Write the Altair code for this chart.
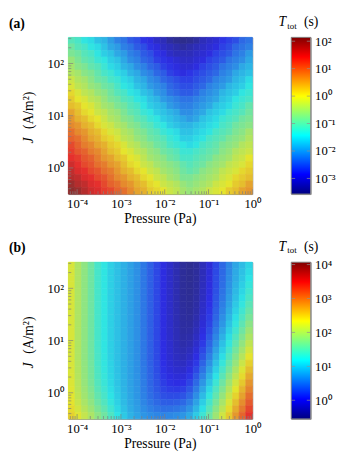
import altair as alt
import pandas as pd

# ---------------- data (log10 of T_tot in s), rows top (high J) -> bottom (low J)
P_LOG_MIN, P_LOG_MAX = -4.2, 0.0      # pressure extent, log10(Pa)
J_LOG_MIN, J_LOG_MAX = -0.5, 2.5      # current density extent, log10(A/m^2)

LOGT_A = [
    [-1.1, -1.2, -1.4, -1.5, -1.7, -1.8, -2.0, -2.2, -2.3, -2.5, -2.6, -2.8, -2.9, -3.1, -3.2, -3.4, -3.5, -3.55, -3.5, -3.4, -3.2, -3.1, -3.0, -2.8, -2.7, -2.6, -2.4, -2.3],
    [-0.9, -1.1, -1.2, -1.4, -1.5, -1.7, -1.9, -2.0, -2.2, -2.3, -2.5, -2.6, -2.8, -2.9, -3.1, -3.2, -3.3, -3.4, -3.3, -3.2, -3.1, -3.0, -2.9, -2.7, -2.6, -2.4, -2.3, -2.2],
    [-0.8, -0.9, -1.1, -1.2, -1.4, -1.6, -1.7, -1.9, -2.0, -2.2, -2.3, -2.5, -2.6, -2.8, -2.9, -3.1, -3.2, -3.2, -3.2, -3.1, -3.0, -2.9, -2.7, -2.6, -2.5, -2.3, -2.2, -2.0],
    [-0.6, -0.8, -1.0, -1.1, -1.3, -1.4, -1.6, -1.7, -1.9, -2.1, -2.2, -2.4, -2.5, -2.7, -2.8, -2.9, -3.0, -3.1, -3.1, -3.0, -2.9, -2.7, -2.6, -2.5, -2.3, -2.2, -2.1, -1.9],
    [-0.5, -0.7, -0.8, -1.0, -1.1, -1.3, -1.5, -1.6, -1.8, -1.9, -2.1, -2.2, -2.4, -2.5, -2.7, -2.8, -2.9, -3.0, -3.0, -2.9, -2.7, -2.6, -2.5, -2.3, -2.2, -2.1, -1.9, -1.8],
    [-0.4, -0.5, -0.7, -0.8, -1.0, -1.2, -1.3, -1.5, -1.6, -1.8, -1.9, -2.1, -2.2, -2.4, -2.5, -2.7, -2.8, -2.9, -2.8, -2.7, -2.6, -2.5, -2.4, -2.2, -2.1, -1.9, -1.8, -1.7],
    [-0.2, -0.4, -0.5, -0.7, -0.9, -1.0, -1.2, -1.3, -1.5, -1.6, -1.8, -1.9, -2.1, -2.2, -2.4, -2.5, -2.6, -2.7, -2.7, -2.6, -2.5, -2.4, -2.2, -2.1, -2.0, -1.8, -1.7, -1.5],
    [-0.1, -0.3, -0.4, -0.6, -0.7, -0.9, -1.0, -1.2, -1.4, -1.5, -1.7, -1.8, -2.0, -2.1, -2.2, -2.4, -2.5, -2.6, -2.6, -2.5, -2.4, -2.2, -2.1, -2.0, -1.8, -1.7, -1.6, -1.4],
    [0.1, -0.1, -0.3, -0.4, -0.6, -0.7, -0.9, -1.1, -1.2, -1.4, -1.5, -1.7, -1.8, -2.0, -2.1, -2.3, -2.4, -2.5, -2.5, -2.4, -2.2, -2.1, -2.0, -1.8, -1.7, -1.6, -1.4, -1.3],
    [0.2, 0.0, -0.1, -0.3, -0.4, -0.6, -0.8, -0.9, -1.1, -1.2, -1.4, -1.5, -1.7, -1.8, -2.0, -2.1, -2.2, -2.3, -2.3, -2.2, -2.1, -2.0, -1.9, -1.7, -1.6, -1.4, -1.3, -1.2],
    [0.3, 0.2, 0.0, -0.1, -0.3, -0.5, -0.6, -0.8, -0.9, -1.1, -1.2, -1.4, -1.6, -1.7, -1.8, -2.0, -2.1, -2.2, -2.2, -2.1, -2.0, -1.9, -1.7, -1.6, -1.5, -1.3, -1.2, -1.0],
    [0.5, 0.3, 0.1, 0.0, -0.2, -0.3, -0.5, -0.6, -0.8, -1.0, -1.1, -1.3, -1.4, -1.6, -1.7, -1.8, -1.9, -2.1, -2.1, -2.0, -1.9, -1.7, -1.6, -1.5, -1.3, -1.2, -1.1, -0.9],
    [0.6, 0.4, 0.3, 0.1, 0.0, -0.2, -0.4, -0.5, -0.7, -0.8, -1.0, -1.1, -1.3, -1.4, -1.6, -1.7, -1.8, -1.9, -2.0, -1.9, -1.7, -1.6, -1.5, -1.3, -1.2, -1.1, -0.9, -0.8],
    [0.7, 0.6, 0.4, 0.3, 0.1, -0.1, -0.2, -0.4, -0.5, -0.7, -0.8, -1.0, -1.1, -1.3, -1.4, -1.6, -1.7, -1.8, -1.8, -1.7, -1.6, -1.5, -1.4, -1.2, -1.1, -0.9, -0.8, -0.7],
    [0.9, 0.7, 0.6, 0.4, 0.3, 0.1, -0.1, -0.2, -0.4, -0.5, -0.7, -0.8, -1.0, -1.1, -1.3, -1.4, -1.5, -1.7, -1.7, -1.6, -1.5, -1.4, -1.2, -1.1, -1.0, -0.8, -0.7, -0.5],
    [1.0, 0.9, 0.7, 0.5, 0.4, 0.2, 0.1, -0.1, -0.3, -0.4, -0.6, -0.7, -0.9, -1.0, -1.1, -1.3, -1.4, -1.6, -1.6, -1.5, -1.4, -1.2, -1.1, -1.0, -0.8, -0.7, -0.6, -0.4],
    [1.2, 1.0, 0.8, 0.7, 0.5, 0.4, 0.2, 0.1, -0.1, -0.3, -0.4, -0.6, -0.7, -0.9, -1.0, -1.2, -1.3, -1.4, -1.5, -1.4, -1.2, -1.1, -1.0, -0.8, -0.7, -0.6, -0.4, -0.3],
    [1.3, 1.1, 1.0, 0.8, 0.7, 0.5, 0.3, 0.2, 0.0, -0.1, -0.3, -0.4, -0.6, -0.7, -0.9, -1.0, -1.1, -1.3, -1.3, -1.2, -1.1, -1.0, -0.9, -0.7, -0.6, -0.4, -0.3, -0.2],
    [1.4, 1.3, 1.1, 1.0, 0.8, 0.6, 0.5, 0.3, 0.2, 0.0, -0.1, -0.3, -0.5, -0.6, -0.7, -0.9, -1.0, -1.2, -1.2, -1.1, -1.0, -0.9, -0.7, -0.6, -0.5, -0.3, -0.2, 0.0],
    [1.6, 1.4, 1.2, 1.1, 0.9, 0.8, 0.6, 0.5, 0.3, 0.1, 0.0, -0.2, -0.3, -0.5, -0.6, -0.7, -0.8, -1.0, -1.1, -1.0, -0.9, -0.7, -0.6, -0.5, -0.3, -0.2, -0.1, 0.1],
    [1.7, 1.5, 1.4, 1.2, 1.1, 0.9, 0.8, 0.6, 0.4, 0.3, 0.1, 0.0, -0.2, -0.3, -0.5, -0.6, -0.7, -0.9, -1.0, -0.9, -0.7, -0.6, -0.5, -0.3, -0.2, -0.1, 0.1, 0.2],
    [1.8, 1.7, 1.5, 1.4, 1.2, 1.1, 0.9, 0.7, 0.6, 0.4, 0.3, 0.1, 0.0, -0.2, -0.3, -0.5, -0.6, -0.8, -0.8, -0.7, -0.6, -0.5, -0.4, -0.2, -0.1, 0.1, 0.2, 0.3],
    [2.0, 1.8, 1.7, 1.5, 1.4, 1.2, 1.0, 0.9, 0.7, 0.6, 0.4, 0.3, 0.1, 0.0, -0.2, -0.3, -0.4, -0.6, -0.7, -0.6, -0.5, -0.4, -0.2, -0.1, 0.0, 0.2, 0.3, 0.5],
    [2.1, 2.0, 1.8, 1.6, 1.5, 1.3, 1.2, 1.0, 0.9, 0.7, 0.5, 0.4, 0.2, 0.1, 0.0, -0.2, -0.3, -0.5, -0.6, -0.5, -0.4, -0.2, -0.1, 0.0, 0.2, 0.3, 0.5, 0.6],
]

LOGT_B = [
    [2.25, 2.0, 1.8, 1.6, 1.35, 1.2, 1.05, 0.95, 0.85, 0.75, 0.65, 0.5, 0.35, 0.2, 0.0, -0.15, -0.3, -0.45, -0.5, -0.44, -0.25, -0.06, 0.20, 0.40, 0.60, 0.79, 0.93, 1.08],
    [2.25, 2.0, 1.8, 1.6, 1.35, 1.2, 1.05, 0.95, 0.85, 0.75, 0.65, 0.5, 0.35, 0.2, 0.0, -0.15, -0.3, -0.45, -0.49, -0.43, -0.25, -0.05, 0.21, 0.41, 0.61, 0.81, 0.96, 1.12],
    [2.25, 2.0, 1.8, 1.6, 1.35, 1.2, 1.05, 0.95, 0.85, 0.75, 0.65, 0.5, 0.35, 0.2, 0.0, -0.15, -0.3, -0.45, -0.49, -0.43, -0.24, -0.04, 0.22, 0.42, 0.63, 0.83, 0.99, 1.18],
    [2.25, 2.0, 1.8, 1.6, 1.35, 1.2, 1.05, 0.95, 0.85, 0.75, 0.65, 0.5, 0.35, 0.2, 0.0, -0.15, -0.3, -0.45, -0.48, -0.42, -0.23, -0.02, 0.23, 0.44, 0.66, 0.87, 1.04, 1.24],
    [2.25, 2.0, 1.8, 1.6, 1.35, 1.2, 1.05, 0.95, 0.85, 0.75, 0.65, 0.5, 0.35, 0.2, 0.0, -0.15, -0.3, -0.45, -0.48, -0.41, -0.21, -0.01, 0.25, 0.47, 0.69, 0.91, 1.09, 1.31],
    [2.25, 2.0, 1.8, 1.6, 1.35, 1.2, 1.05, 0.95, 0.85, 0.75, 0.65, 0.5, 0.35, 0.2, 0.0, -0.15, -0.3, -0.44, -0.47, -0.39, -0.20, 0.02, 0.28, 0.50, 0.73, 0.95, 1.15, 1.38],
    [2.25, 2.0, 1.8, 1.6, 1.35, 1.2, 1.05, 0.95, 0.85, 0.75, 0.65, 0.5, 0.35, 0.2, 0.0, -0.15, -0.3, -0.43, -0.46, -0.38, -0.17, 0.04, 0.31, 0.54, 0.77, 1.01, 1.23, 1.47],
    [2.25, 2.0, 1.8, 1.6, 1.35, 1.2, 1.05, 0.95, 0.85, 0.75, 0.65, 0.5, 0.35, 0.2, 0.0, -0.15, -0.29, -0.42, -0.45, -0.36, -0.15, 0.08, 0.35, 0.58, 0.83, 1.07, 1.31, 1.56],
    [2.25, 2.0, 1.8, 1.6, 1.35, 1.2, 1.05, 0.95, 0.85, 0.75, 0.65, 0.5, 0.35, 0.2, 0.0, -0.15, -0.29, -0.41, -0.43, -0.33, -0.11, 0.12, 0.39, 0.64, 0.89, 1.15, 1.39, 1.66],
    [2.25, 2.0, 1.8, 1.6, 1.35, 1.2, 1.05, 0.95, 0.85, 0.75, 0.65, 0.5, 0.35, 0.2, 0.0, -0.14, -0.28, -0.40, -0.41, -0.29, -0.07, 0.17, 0.45, 0.70, 0.97, 1.23, 1.49, 1.77],
    [2.25, 2.0, 1.8, 1.6, 1.35, 1.2, 1.05, 0.95, 0.85, 0.75, 0.65, 0.5, 0.35, 0.2, 0.0, -0.14, -0.27, -0.39, -0.38, -0.25, -0.02, 0.23, 0.51, 0.78, 1.05, 1.32, 1.59, 1.88],
    [2.25, 2.0, 1.8, 1.6, 1.35, 1.2, 1.05, 0.95, 0.85, 0.75, 0.65, 0.5, 0.35, 0.2, 0.0, -0.13, -0.26, -0.37, -0.34, -0.20, 0.04, 0.30, 0.59, 0.86, 1.14, 1.42, 1.70, 1.99],
    [2.25, 2.0, 1.8, 1.6, 1.35, 1.2, 1.05, 0.95, 0.85, 0.75, 0.65, 0.5, 0.35, 0.2, 0.01, -0.12, -0.25, -0.34, -0.30, -0.14, 0.11, 0.38, 0.67, 0.95, 1.23, 1.52, 1.81, 2.10],
    [2.25, 2.0, 1.8, 1.6, 1.36, 1.2, 1.05, 0.95, 0.85, 0.75, 0.65, 0.5, 0.35, 0.21, 0.02, -0.11, -0.23, -0.30, -0.24, -0.07, 0.19, 0.46, 0.76, 1.04, 1.33, 1.63, 1.92, 2.22],
    [2.25, 2.0, 1.8, 1.61, 1.37, 1.21, 1.06, 0.95, 0.85, 0.75, 0.65, 0.5, 0.35, 0.21, 0.03, -0.10, -0.20, -0.26, -0.18, 0.01, 0.27, 0.55, 0.85, 1.14, 1.44, 1.74, 2.04, 2.34],
    [2.25, 2.01, 1.81, 1.62, 1.37, 1.22, 1.07, 0.95, 0.85, 0.75, 0.65, 0.5, 0.36, 0.22, 0.04, -0.08, -0.17, -0.20, -0.10, 0.10, 0.37, 0.65, 0.96, 1.25, 1.55, 1.85, 2.16, 2.46],
    [2.26, 2.02, 1.82, 1.63, 1.39, 1.23, 1.08, 0.96, 0.85, 0.75, 0.65, 0.51, 0.37, 0.23, 0.06, -0.05, -0.12, -0.13, -0.02, 0.19, 0.47, 0.76, 1.06, 1.36, 1.66, 1.97, 2.28, 2.58],
    [2.27, 2.03, 1.83, 1.64, 1.40, 1.25, 1.09, 0.97, 0.86, 0.75, 0.66, 0.52, 0.38, 0.25, 0.09, 0.0, -0.06, -0.05, 0.08, 0.30, 0.57, 0.87, 1.17, 1.47, 1.78, 2.09, 2.40, 2.71],
    [2.28, 2.05, 1.85, 1.66, 1.43, 1.27, 1.11, 0.98, 0.87, 0.76, 0.67, 0.53, 0.39, 0.27, 0.13, 0.06, 0.02, 0.05, 0.18, 0.41, 0.69, 0.98, 1.29, 1.59, 1.90, 2.21, 2.52, 2.83],
    [2.30, 2.07, 1.88, 1.70, 1.47, 1.31, 1.14, 1.00, 0.88, 0.77, 0.68, 0.54, 0.41, 0.30, 0.18, 0.13, 0.11, 0.15, 0.29, 0.52, 0.80, 1.10, 1.41, 1.71, 2.02, 2.33, 2.64, 2.95],
    [2.32, 2.10, 1.91, 1.74, 1.52, 1.36, 1.18, 1.03, 0.90, 0.79, 0.69, 0.56, 0.44, 0.35, 0.25, 0.22, 0.22, 0.27, 0.41, 0.64, 0.92, 1.22, 1.52, 1.83, 2.14, 2.45, 2.76, 3.08],
    [2.35, 2.15, 1.97, 1.80, 1.59, 1.42, 1.23, 1.06, 0.92, 0.80, 0.71, 0.59, 0.49, 0.41, 0.34, 0.33, 0.35, 0.40, 0.54, 0.76, 1.04, 1.34, 1.65, 1.95, 2.26, 2.58, 2.89, 3.20],
    [2.40, 2.22, 2.04, 1.88, 1.68, 1.51, 1.31, 1.11, 0.96, 0.83, 0.74, 0.64, 0.55, 0.49, 0.45, 0.46, 0.48, 0.54, 0.67, 0.89, 1.16, 1.46, 1.77, 2.07, 2.39, 2.70, 3.01, 3.33],
    [2.46, 2.30, 2.13, 1.98, 1.79, 1.61, 1.40, 1.18, 1.01, 0.87, 0.78, 0.69, 0.63, 0.59, 0.57, 0.60, 0.63, 0.69, 0.81, 1.02, 1.29, 1.58, 1.89, 2.20, 2.51, 2.82, 3.14, 3.45],
]

CB_RANGE_A = (-3.57, 2.14)
CB_RANGE_B = (-0.55, 4.07)
CB_TICKS_A = [-3, -2, -1, 0, 1, 2]
CB_TICKS_B = [0, 1, 2, 3, 4]
X_DECADES = [-4, -3, -2, -1, 0]
Y_DECADES = [0, 1, 2]

PANEL_LABELS = ["(a)", "(b)"]
CB_TITLE = ["T", "tot", "(s)"]
X_TITLE = "Pressure (Pa)"
Y_TITLE = ["J", "(A/m²)"]

JET_STOPS = [0.0, 0.125, 0.375, 0.625, 0.875, 1.0]
JET = ["#000080", "#0000ff", "#00ffff", "#ffff00", "#ff0000", "#800000"]
VEIL_COLOR, VEIL_OPACITY = "#a0a0a0", 0.28   # dulls the map; the colour bar stays pure

FONT = "Liberation Serif"
W, H = 189, 161
CB_W = 20
CB_SPACING = 16      # + overhang of the right-most x label gives the 26 px gap
ROW_SPACING = 12

SUP = str.maketrans("-0123456789", "⁻⁰¹²³⁴⁵⁶⁷⁸⁹")


def pow_label(k):
    return "10" + str(k).translate(SUP)


def label_expr(exps, key):
    expr = "''"
    for k in reversed(exps):
        expr = f"({key} == {k}) ? '{pow_label(k)}' : {expr}"
    return expr


def grid_frame(mat):
    nr, nc = len(mat), len(mat[0])
    dp = (P_LOG_MAX - P_LOG_MIN) / nc
    dj = (J_LOG_MAX - J_LOG_MIN) / nr
    recs = []
    for r, row in enumerate(mat):
        assert len(row) == nc, (r, len(row))
        jt = J_LOG_MAX - r * dj
        for c, v in enumerate(row):
            pl = P_LOG_MIN + c * dp
            recs.append(dict(p0=10 ** pl, p1=10 ** (pl + dp),
                             j0=10 ** (jt - dj), j1=10 ** jt, v=v))
    return pd.DataFrame(recs)


def log_ticks(lo, hi):
    major, minor = [], []
    for k in range(int(lo) - 2, int(hi) + 2):
        for m in range(1, 10):
            v = m * 10.0 ** k
            if 10 ** lo * 0.999 <= v <= 10 ** hi * 1.001:
                (major if m == 1 else minor).append(v)
    return major, minor


XS = alt.Scale(type="log", domain=[10 ** P_LOG_MIN, 10 ** P_LOG_MAX], nice=False)
YS = alt.Scale(type="log", domain=[10 ** J_LOG_MIN, 10 ** J_LOG_MAX], nice=False)

X_AXIS = alt.Axis(values=[10.0 ** k for k in X_DECADES],
                  labelExpr=label_expr(X_DECADES, "round(log(datum.value)/LN10)"),
                  ticks=False, domain=False, grid=False, labelPadding=4,
                  labelFlush=False, title=None)
Y_AXIS = alt.Axis(values=[10.0 ** k for k in Y_DECADES],
                  labelExpr=label_expr(Y_DECADES, "round(log(datum.value)/LN10)"),
                  ticks=False, domain=False, grid=False, labelPadding=5,
                  labelFlush=False, title=None)


def text_layer(txt, x, y, size=14, style="normal", weight="normal",
               angle=0, align="left", baseline="alphabetic"):
    return alt.Chart(pd.DataFrame({"t": [txt]})).mark_text(
        font=FONT, fontSize=size, fontStyle=style, fontWeight=weight,
        angle=angle, align=align, baseline=baseline, color="black"
    ).encode(text="t:N", x=alt.value(x), y=alt.value(y))


def jet_scale(lo, hi):
    dom = [lo + s * (hi - lo) for s in JET_STOPS]
    return alt.Scale(domain=dom, range=JET, interpolate="rgb", clamp=True)


def heatmap(mat, cb_range, label):
    df = grid_frame(mat)
    jet = jet_scale(*cb_range)
    x = alt.X("p0:Q", scale=XS, axis=X_AXIS, title=None)
    y = alt.Y("j0:Q", scale=YS, axis=Y_AXIS, title=None)

    heat = alt.Chart(df).mark_rect(strokeWidth=0.6).encode(
        x=x, x2="p1:Q", y=y, y2="j1:Q",
        fill=alt.Fill("v:Q", scale=jet, legend=None),
        stroke=alt.Stroke("v:Q", scale=jet, legend=None),
    )
    veil = alt.Chart(pd.DataFrame({"k": [0]})).mark_rect(
        color=VEIL_COLOR, opacity=VEIL_OPACITY).encode(
        x=alt.value(0), x2=alt.value(W), y=alt.value(0), y2=alt.value(H))

    xmaj, xmin = log_ticks(P_LOG_MIN, P_LOG_MAX)
    ymaj, ymin = log_ticks(J_LOG_MIN, J_LOG_MAX)
    ticks = []
    for vals, ln in ((xmaj, 5), (xmin, 3)):
        ticks.append(alt.Chart(pd.DataFrame({"p0": vals})).mark_tick(
            orient="vertical", color="#808080", thickness=1, size=ln).encode(
            x=x, y=alt.value(H - ln / 2)))
    for vals, ln in ((ymaj, 5), (ymin, 3)):
        ticks.append(alt.Chart(pd.DataFrame({"j0": vals})).mark_tick(
            orient="horizontal", color="#808080", thickness=1, size=ln).encode(
            y=y, x=alt.value(ln / 2)))

    texts = [
        text_layer(label, -61, -10, size=14, weight="bold"),
        text_layer(Y_TITLE[0], -40, H - 55, size=14, style="italic",
                   angle=270, align="center", baseline="middle"),
        text_layer(Y_TITLE[1], -40, H - 86, size=14,
                   angle=270, align="center", baseline="middle"),
        text_layer(X_TITLE, W / 2, H + 30, size=14, align="center"),
    ]
    return alt.layer(heat, veil, *ticks, *texts).properties(width=W, height=H)


def colorbar(cb_range, cb_ticks):
    lo, hi = cb_range
    ys = alt.Scale(domain=[lo, hi], nice=False, zero=False)
    cb_axis = alt.Axis(
        orient="right", values=cb_ticks,
        labelExpr=label_expr(cb_ticks, "round(datum.value)"),
        ticks=False, domain=False, grid=False, labelPadding=4,
        labelFlush=False, labelOverlap=False, title=None)
    y = alt.Y("lo:Q", scale=ys, axis=cb_axis, title=None)
    grad = alt.Gradient(
        gradient="linear", x1=0, y1=1, x2=0, y2=0,
        stops=[alt.GradientStop(offset=s, color=c) for s, c in zip(JET_STOPS, JET)])
    bar = alt.Chart(pd.DataFrame({"lo": [lo], "hi": [hi]})).mark_rect(
        fill=grad, stroke="#888888", strokeWidth=1).encode(
        x=alt.value(0), x2=alt.value(CB_W), y=y, y2="hi:Q")
    tdf = pd.DataFrame({"lo": cb_ticks})
    marks = [alt.Chart(tdf).mark_tick(orient="horizontal", color="#909090",
                                      thickness=1, size=4).encode(
        y=y, x=alt.value(xx)) for xx in (2, CB_W - 2)]
    texts = [
        text_layer(CB_TITLE[0], -13, -12, size=14, style="italic"),
        text_layer(CB_TITLE[1], -4, -9, size=9),
        text_layer(CB_TITLE[2], 13, -12, size=14),
    ]
    return alt.layer(bar, *marks, *texts).properties(width=CB_W, height=H)


def row(mat, cb_range, cb_ticks, label):
    return alt.hconcat(heatmap(mat, cb_range, label), colorbar(cb_range, cb_ticks),
                       spacing=CB_SPACING).resolve_scale(y="independent")


chart = alt.vconcat(
    row(LOGT_A, CB_RANGE_A, CB_TICKS_A, PANEL_LABELS[0]),
    row(LOGT_B, CB_RANGE_B, CB_TICKS_B, PANEL_LABELS[1]),
    spacing=ROW_SPACING,
).resolve_scale(
    fill="independent", stroke="independent",
    x="independent", y="independent",
).properties(
    padding=0, background="white"
).configure_view(
    stroke="#8c8c8c", strokeWidth=1
).configure_axis(
    labelFont=FONT, labelFontSize=13, labelColor="black",
)

chart.save("out.html", embed_options={"renderer": "svg", "actions": False})
